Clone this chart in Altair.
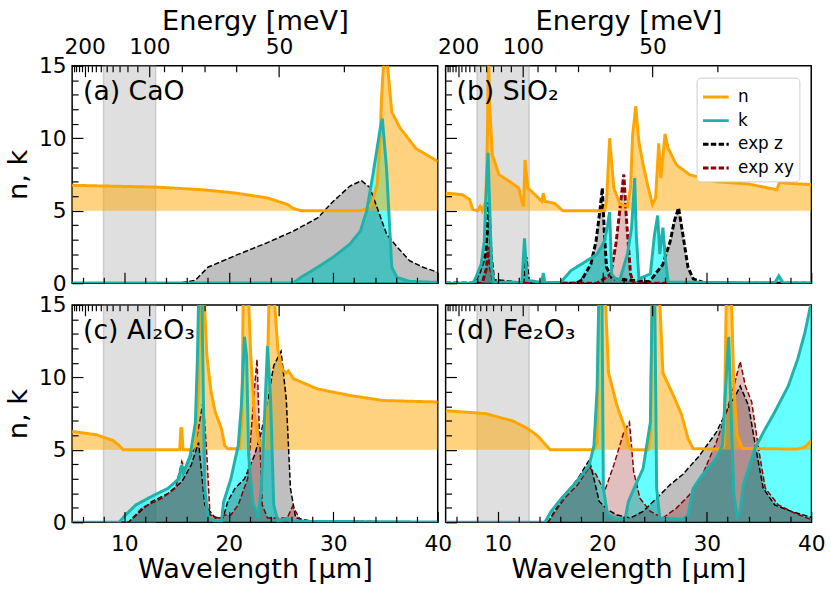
import altair as alt
import pandas as pd

FONT = "DejaVu Sans"
PW, PH = 370, 220

# ---------------- axes / reference values ----------------
WL_RANGE = [5, 40]
NK_RANGE = [0, 15]
BAND = [8, 13]
N_BASE = 5
HC = 1240.0  # meV * um
E_MAJOR = [200, 100, 50]
E_MINOR = [240, 230, 220, 210, 190, 180, 170, 160, 150, 140, 130, 120, 110, 90, 80, 70, 60, 40]
WL_MAJOR = [10, 20, 30, 40]
WL_MINOR = [6, 8, 12, 14, 16, 18, 22, 24, 26, 28, 32, 34, 36, 38]
NK_MAJOR = [0, 5, 10, 15]
NK_MINOR = [1, 2, 3, 4, 6, 7, 8, 9, 11, 12, 13, 14]

SERIES = ["n", "k", "exp z", "exp xy"]

# ---------------- (a) CaO ----------------
CAO_N_WL = [5, 13, 17.4, 20.6, 23.7, 25.6, 26.2, 26.9, 32.6, 33.2, 33.7, 34.2, 34.5, 34.6, 34.8, 34.95, 35.2, 35.6, 36.4, 37.9, 40]
CAO_N = [6.75, 6.63, 6.45, 6.22, 5.88, 5.43, 5.15, 5.0, 5.0, 5.15, 5.5, 6.8, 10.2, 12.5, 15, 17, 15, 11.8, 10.7, 9.3, 8.4]
CAO_K_WL = [5, 26.2, 26.9, 28.5, 30.0, 31.6, 32.6, 33.2, 33.8, 34.5, 34.7, 35.1, 35.6, 36.1, 37.3, 40]
CAO_K = [0.02, 0.02, 0.4, 1.1, 1.8, 2.7, 3.6, 5.0, 7.5, 10.7, 11.35, 7.9, 1.1, 0.4, 0.12, 0.05]
CAO_EZ_WL = [5, 15.2, 16.8, 18.0, 20.6, 23.7, 26.2, 28.5, 30.0, 31.6, 32.7, 33.5, 34.2, 35.1, 36.1, 37.3, 38.6, 40]
CAO_EZ = [0, 0, 0.2, 1.1, 1.9, 2.8, 3.6, 4.5, 5.65, 6.7, 7.07, 6.6, 5.2, 3.4, 2.5, 1.55, 1.1, 0.75]

# ---------------- (b) SiO2 ----------------
SIO2_N_WL = [5.0, 6.6, 7.3, 7.6, 8.05, 8.3, 8.5, 8.84, 9.0, 9.1, 9.2, 9.47, 10.1, 11.36, 12.0, 12.3, 12.46, 12.6, 12.87, 13.56,
             14.2, 14.35, 14.5, 15.45, 16.2, 20.2, 20.4, 20.7, 21.1, 21.7, 22.4, 22.7, 22.9, 23.2, 23.5, 23.9, 24.4, 24.8, 25.1, 25.4,
             25.6, 26.0, 26.3, 27.1, 28.35, 30.9, 34.0, 36.7, 37.0, 37.5, 40]
SIO2_N = [6.22, 6.1, 5.77, 5.08, 5.0, 5.3, 5.0, 5.65, 10.2, 16.5, 12.5, 8.85, 7.5, 6.9, 6.57, 5.65, 5.3, 8.5, 6.57, 6.1,
          5.65, 6.2, 5.65, 5.5, 5.0, 5.0, 5.65, 10.0, 6.57, 5.43, 5.3, 6.57, 10.2, 12.2, 9.75, 8.2, 6.57, 5.43, 5.88, 9.64,
          7.25, 10.3, 9.3, 8.16, 7.48, 7.0, 6.84, 6.45, 7.0, 6.9, 6.8]
SIO2_K_WL = [5, 7.6, 7.9, 8.4, 8.7, 8.84, 9.06, 9.2, 9.4, 9.6, 12.3, 12.55, 12.8, 14.2, 14.35, 14.5, 16.0, 17.0, 18.3, 19.5,
             20.2, 20.5, 20.7, 20.9, 21.4, 21.7, 22.4, 22.8, 23.1, 23.25, 23.5, 24.6, 25.0, 25.3, 25.5, 25.8, 26.0, 26.3, 36.5, 36.9,
             37.3, 40]
SIO2_K = [0, 0, 0.4, 1.3, 2.9, 5.65, 9.0, 5.65, 1.1, 0.07, 0.05, 3.1, 0.2, 0.05, 0.7, 0.05, 0.05, 0.87, 1.45, 2.0,
          2.9, 4.0, 4.9, 0.6, 0.2, 0.3, 2.0, 3.8, 7.25, 3.4, 0.3, 0.64, 3.37, 4.67, 2.0, 3.83, 2.0, 0.07, 0.02, 0.5,
          0.02, 0.02]
SIO2_EZ_WL = [5, 7.6, 8.2, 8.84, 9.15, 9.35, 9.6, 12.4, 12.7, 12.95, 17.5, 18.0, 18.9, 19.4, 19.8, 20.0, 20.2, 20.4, 20.95, 24.5,
              25.8, 26.5, 26.9, 27.3, 27.7, 28.2, 28.7, 29.9, 40]
SIO2_EZ = [0, 0, 0.64, 2.0, 5.6, 2.0, 0.2, 0, 1.8, 0, 0, 0.2, 1.3, 2.9, 5.2, 6.57, 3.4, 1.1, 0.3, 0.1,
           1.3, 2.9, 4.3, 5.2, 3.4, 1.1, 0.3, 0, 0]
SIO2_EXY_WL = [5, 8.5, 8.9, 9.1, 9.3, 9.6, 19.5, 20.8, 21.3, 21.7, 22.06, 22.3, 22.7, 23.0, 40]
SIO2_EXY = [0, 0, 1.0, 2.5, 1.0, 0, 0, 0.6, 2.7, 5.2, 7.5, 4.5, 0.64, 0, 0]

# ---------------- (c) Al2O3 ----------------
AL2O3_N_WL = [5, 7.3, 8.9, 9.5, 9.9, 15.3, 15.4, 15.5, 15.6, 15.65, 16.4, 16.8, 17.1, 17.3, 17.55, 17.9, 18.3, 18.7, 19.3, 19.6,
              19.9, 21.0, 21.25, 21.4, 21.8, 22.1, 22.45, 22.9, 23.4, 23.65, 23.9, 24.2, 24.7, 25.1, 25.5, 25.7, 26.2, 28.5, 31.6, 34.8,
              40]
AL2O3_N = [6.27, 6.04, 5.65, 5.3, 5.0, 5.0, 6.45, 6.45, 5.2, 5.0, 5.0, 5.3, 9.2, 17, 17, 11.5, 9.0, 7.6, 6.45, 5.3,
           5.08, 5.08, 6.9, 17, 17, 11.5, 7.4, 5.5, 5.3, 9.2, 17, 17, 11.9, 10.55, 10.3, 10.45, 9.9, 9.2, 8.75, 8.4,
           8.3]
AL2O3_K_WL = [5, 9.5, 10.1, 11.1, 12.65, 14.2, 15.2, 15.5, 15.65, 16.3, 16.8, 17.0, 17.15, 17.4, 17.55, 17.7, 18.0, 18.7, 19.3, 19.5,
              20.2, 20.9, 21.2, 21.5, 21.7, 21.9, 22.3, 22.8, 23.1, 23.4, 23.7, 24.0, 24.3, 24.7, 25.6, 25.9, 40]
AL2O3_K = [0, 0, 0.5, 1.2, 1.8, 2.35, 3.0, 3.95, 3.4, 4.6, 6.9, 11.5, 17, 17, 9.2, 2.35, 0.3, 0.07, 0.07, 1.4,
           3.0, 5.3, 8.05, 12.8, 11.5, 4.6, 1.4, 0.3, 2.35, 6.9, 12.15, 8.5, 1.2, 0.07, 0.3, 0.07, 0.02]
AL2O3_EZ_WL = [5, 10.4, 11.7, 12.65, 14.2, 15.5, 16.4, 17.1, 17.7, 18.7, 19.45, 19.9, 20.6, 21.5, 22.45, 23.1, 23.7, 24.3, 25.0, 25.5,
               25.9, 26.4, 27.8, 40]
AL2O3_EZ = [0, 0, 0.87, 1.44, 2.0, 2.8, 3.95, 5.5, 1.2, 0.3, 0.3, 1.44, 2.35, 3.0, 4.6, 6.2, 8.3, 10.8, 11.8, 8.5,
            2.35, 0.3, 0.1, 0]
AL2O3_EXY_WL = [5, 10.4, 11.7, 13.6, 14.9, 15.5, 15.8, 16.8, 17.2, 17.55, 17.9, 18.2, 19.0, 19.6, 20.2, 20.9, 21.8, 22.45, 22.7, 22.9,
                23.2, 23.7, 25.6, 26.1, 26.4, 26.9, 40]
AL2O3_EXY = [0, 0, 1.0, 1.66, 2.35, 4.2, 3.6, 5.3, 6.9, 8.4, 4.6, 0.5, 0.3, 0.5, 0.5, 1.2, 3.0, 9.2, 11.25, 6.9,
             1.2, 0.3, 0.3, 1.1, 0.75, 0.1, 0]

# ---------------- (d) Fe2O3 ----------------
FE2O3_N_WL = [5, 8.8, 11.4, 12.9, 13.9, 14.5, 15.0, 19.2, 19.5, 19.7, 20.2, 20.6, 21.4, 22.2, 22.5, 22.8, 24.4, 24.6, 24.8, 25.4,
              25.8, 26.8, 27.6, 28.2, 28.7, 31.3, 31.65, 31.9, 32.3, 32.6, 32.9, 33.4, 38.7, 39.4, 40]
FE2O3_N = [7.7, 7.5, 7.0, 6.45, 5.9, 5.4, 5.0, 5.0, 5.5, 17, 17, 10.3, 8.05, 6.45, 5.3, 5.0, 5.0, 6.0, 17, 17,
           10.3, 8.75, 7.4, 5.77, 5.08, 5.05, 5.3, 17, 17, 9.2, 6.0, 5.1, 5.05, 5.2, 5.65]
FE2O3_K_WL = [5, 14.5, 15.1, 16.1, 17.3, 18.3, 18.75, 19.2, 19.5, 19.7, 19.95, 20.1, 20.5, 21.4, 22.2, 22.5, 23.2, 23.9, 24.6, 24.8,
              25.0, 25.2, 25.5, 27.7, 28.2, 28.7, 29.6, 30.9, 31.5, 31.8, 32.0, 32.1, 32.3, 32.6, 32.9, 33.2, 33.5, 34.0, 34.6, 35.6,
              36.5, 37.8, 38.7, 39.4, 40]
FE2O3_K = [0, 0, 0.75, 1.66, 2.6, 3.5, 3.95, 5.3, 9.2, 17, 17, 2.35, 0.5, 0.2, 0.3, 1.44, 2.6, 3.7, 6.9, 17,
           17, 2.35, 0.3, 0.2, 0.5, 2.35, 3.3, 4.4, 5.3, 9.2, 11.7, 12.8, 8.05, 1.9, 0.4, 0.75, 2.6, 3.7, 5.08, 6.45,
           7.6, 9.4, 11.25, 13.1, 15.2]
FE2O3_EZ_WL = [5, 14.8, 15.4, 16.4, 17.65, 18.75, 19.2, 19.7, 20.5, 21.4, 22.7, 23.9, 25.2, 26.5, 27.7, 29.3, 30.9, 32.0, 32.75, 33.2,
               34.0, 34.6, 35.4, 36.5, 38.1, 40]
FE2O3_EZ = [0, 0, 0.75, 1.9, 3.0, 4.3, 3.0, 1.44, 0.87, 0.5, 0.3, 0.75, 1.66, 2.6, 3.3, 4.6, 6.2, 7.8, 8.75, 9.4,
            8.05, 5.5, 2.35, 1.2, 0.75, 0.35]
FE2O3_EXY_WL = [5, 14.8, 15.4, 16.4, 17.65, 18.75, 19.4, 20.2, 21.1, 22.05, 22.6, 23.0, 23.6, 24.6, 25.8, 27.1, 28.35, 29.6, 30.9, 31.8,
                32.6, 33.2, 33.7, 34.3, 34.95, 35.6, 36.85, 38.4, 40]
FE2O3_EXY = [0, 0, 0.64, 1.66, 2.6, 3.8, 3.3, 2.1, 3.95, 6.2, 6.9, 3.5, 1.66, 0.75, 0.3, 0.98, 1.9, 3.3, 5.5, 7.4,
             9.4, 11.1, 9.4, 8.3, 5.1, 2.35, 1.2, 0.64, 0.18]

# ---------------- styles ----------------
LINE_COLORS = {"n": "#FFA500", "k": "#20B2AA", "exp z": "#000000", "exp xy": "#8B0000"}
LINE_WIDTHS = {"n": 3.0, "k": 3.0, "exp z": 1.5, "exp xy": 1.5}
LINE_DASH = {"n": [1, 0], "k": [1, 0], "exp z": [5.5, 2.4], "exp xy": [5.5, 2.4]}

TICK_MAJ, TICK_MIN = 11, 6
LABEL_FS, TITLE_FS = 22, 27.5


def make_axis(orient, values, size, labels=False, title=None, expr=None, lpad=6, tpad=4):
    kw = dict(orient=orient, values=values, tickSize=size, offset=-size, domain=False, grid=False,
              labels=labels, ticks=True, tickColor="black", tickWidth=1.2, zindex=2,
              labelFont=FONT, labelFontSize=LABEL_FS, labelColor="black", labelPadding=lpad,
              labelFlush=False, labelOverlap=False, labelBound=False)
    if expr is not None:
        kw["labelExpr"] = expr
    if title is not None:
        kw.update(title=title, titleFont=FONT, titleFontSize=TITLE_FS, titleFontWeight="normal",
                  titleColor="black", titlePadding=tpad)
    else:
        kw["title"] = None
    return alt.Axis(**kw)


def xy(wl, v, name):
    return pd.DataFrame({"wl": wl, "v": v, "s": name})


def panel(label, n, k, ez, exy, left, top, bottom, legend):
    xs = alt.Scale(domain=WL_RANGE, nice=False, zero=False)
    ys = alt.Scale(domain=NK_RANGE, nice=False, zero=False)

    ax_bmaj = make_axis("bottom", WL_MAJOR, TICK_MAJ, labels=bottom,
                        title="Wavelength [μm]" if bottom else None, lpad=12, tpad=1)
    ax_bmin = make_axis("bottom", WL_MINOR, TICK_MIN)
    ax_lmaj = make_axis("left", NK_MAJOR, TICK_MAJ, labels=left,
                        title="n, k" if left else None, lpad=6, tpad=6)
    ax_lmin = make_axis("left", NK_MINOR, TICK_MIN)
    ax_tmaj = make_axis("top", [HC / e for e in E_MAJOR], TICK_MAJ, labels=top,
                        title="Energy [meV]" if top else None,
                        expr="format(%g / datum.value, 'd')" % HC, lpad=7, tpad=1)
    ax_tmin = make_axis("top", [HC / e for e in E_MINOR], TICK_MIN)

    layers = []
    band_df = pd.DataFrame({"wl": [BAND[0]], "wl2": [BAND[1]]})
    layers.append(alt.Chart(band_df).mark_rect(
        fill="#808080", fillOpacity=0.25, stroke="#808080", strokeOpacity=0.3, strokeWidth=1.5
    ).encode(x=alt.X("wl:Q", scale=xs, axis=ax_bmaj), x2="wl2:Q"))

    layers.append(alt.Chart(xy(*k, "k")).mark_area(color="#00FFFF", opacity=0.6, clip=True).encode(
        x=alt.X("wl:Q", scale=xs, axis=ax_bmin), y=alt.Y("v:Q", scale=ys, axis=ax_lmaj)))
    layers.append(alt.Chart(xy(*ez, "exp z")).mark_area(color="#000000", opacity=0.25, clip=True).encode(
        x=alt.X("wl:Q", scale=xs, axis=ax_tmaj), y=alt.Y("v:Q", scale=ys, axis=ax_lmin)))
    if exy is not None:
        layers.append(alt.Chart(xy(*exy, "exp xy")).mark_area(color="#8B0000", opacity=0.25, clip=True).encode(
            x=alt.X("wl:Q", scale=xs, axis=None), y=alt.Y("v:Q", scale=ys, axis=None)))
    ndf = xy(*n, "n")
    ndf["base"] = N_BASE
    layers.append(alt.Chart(ndf).mark_area(color="#FFA500", opacity=0.5, clip=True).encode(
        x=alt.X("wl:Q", scale=xs, axis=ax_tmin), y=alt.Y("v:Q", scale=ys, axis=None), y2="base:Q"))

    line_sets = [("exp z", ez), ("exp xy", exy), ("n", n), ("k", k)]
    leg = alt.Legend(orient="top-right", offset=12, padding=5, rowPadding=1, labelFont=FONT,
                     labelFontSize=17, labelColor="black", symbolType="stroke", symbolSize=676,
                     labelOffset=8, fillColor="white", strokeColor="#cccccc", cornerRadius=4)
    for name, d in line_sets:
        if d is None:
            continue
        base = alt.Chart(xy(*d, name))
        if legend:
            layers.append(base.mark_line(clip=True).encode(
                x=alt.X("wl:Q", scale=xs, axis=None), y=alt.Y("v:Q", scale=ys, axis=None),
                color=alt.Color("s:N", title=None, legend=leg,
                                scale=alt.Scale(domain=SERIES, range=[LINE_COLORS[s] for s in SERIES])),
                strokeDash=alt.StrokeDash("s:N", title=None, legend=leg,
                                          scale=alt.Scale(domain=SERIES, range=[LINE_DASH[s] for s in SERIES])),
                strokeWidth=alt.StrokeWidth("s:N", title=None, legend=leg,
                                            scale=alt.Scale(domain=SERIES, range=[LINE_WIDTHS[s] for s in SERIES]))))
        else:
            layers.append(base.mark_line(clip=True, color=LINE_COLORS[name], strokeWidth=LINE_WIDTHS[name],
                                         strokeDash=LINE_DASH[name]).encode(
                x=alt.X("wl:Q", scale=xs, axis=None), y=alt.Y("v:Q", scale=ys, axis=None)))

    layers.append(alt.Chart(pd.DataFrame({"t": [label]})).mark_text(
        align="left", baseline="alphabetic", font=FONT, fontSize=27, color="black"
    ).encode(text="t:N", x=alt.value(11), y=alt.value(35)))

    return alt.layer(*layers).resolve_axis(x="independent", y="independent").properties(width=PW, height=PH)


pa = panel("(a) CaO", (CAO_N_WL, CAO_N), (CAO_K_WL, CAO_K), (CAO_EZ_WL, CAO_EZ), None,
           left=True, top=True, bottom=False, legend=False)
pb = panel("(b) SiO₂", (SIO2_N_WL, SIO2_N), (SIO2_K_WL, SIO2_K), (SIO2_EZ_WL, SIO2_EZ), (SIO2_EXY_WL, SIO2_EXY),
           left=False, top=True, bottom=False, legend=True)
pc = panel("(c) Al₂O₃", (AL2O3_N_WL, AL2O3_N), (AL2O3_K_WL, AL2O3_K), (AL2O3_EZ_WL, AL2O3_EZ),
           (AL2O3_EXY_WL, AL2O3_EXY), left=True, top=False, bottom=True, legend=False)
pd_ = panel("(d) Fe₂O₃", (FE2O3_N_WL, FE2O3_N), (FE2O3_K_WL, FE2O3_K), (FE2O3_EZ_WL, FE2O3_EZ),
            (FE2O3_EXY_WL, FE2O3_EXY), left=False, top=False, bottom=True, legend=False)

chart = alt.concat(pa, pb, pc, pd_, columns=2, spacing=alt.RowColnumber(row=22, column=8), bounds="flush").resolve_scale(
    color="independent", strokeDash="independent", strokeWidth="independent"
).resolve_legend(
    color="independent", strokeDash="independent", strokeWidth="independent"
).properties(
    padding={"left": 4, "top": 3, "right": 5, "bottom": 5}, background="white"
).configure_view(stroke="black", strokeWidth=1.5)

chart.save("out.html", embed_options={"renderer": "svg", "actions": False})
